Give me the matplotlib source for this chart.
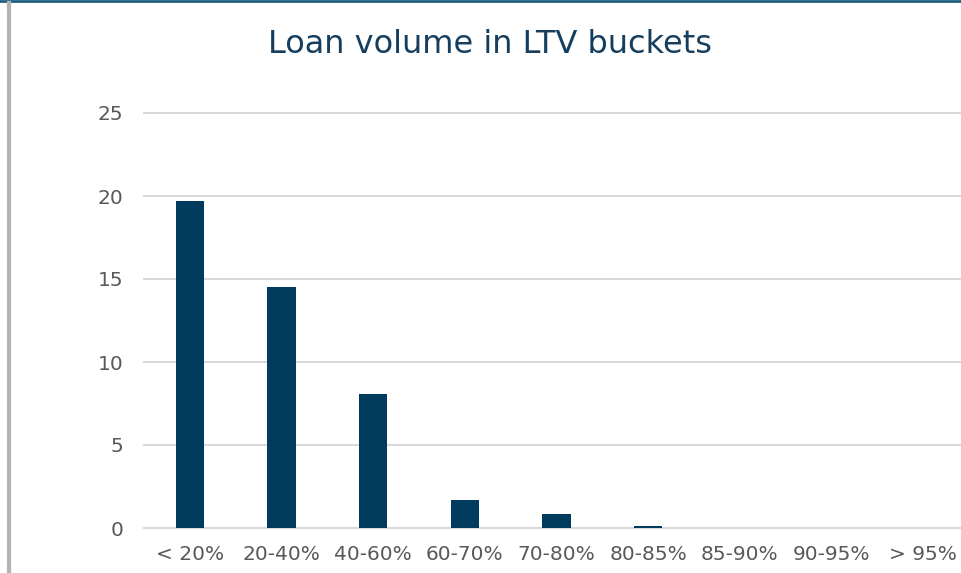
import numpy as np
import matplotlib.pyplot as plt
from matplotlib.lines import Line2D

# LTV buckets and loan volume
buckets = ['< 20%', '20-40%', '40-60%', '60-70%', '70-80%',
           '80-85%', '85-90%', '90-95%', '> 95%']
volume = [19.7, 14.5, 8.1, 1.7, 0.85, 0.1, 0.02, 0.02, 0.0]
y_ticks = [0, 5, 10, 15, 20, 25]

bar_color = '#003a5c'
text_color = '#595959'
title_color = '#163f5f'

plt.rcParams['font.family'] = ['DejaVu Sans']

fig = plt.figure(figsize=(9.61, 5.73), dpi=100)
ax = fig.add_axes([144 / 961, 45 / 573, 825 / 961, 415 / 573])

x = np.arange(len(buckets))
ax.bar(x, volume, width=0.31, color=bar_color, zorder=3)

ax.set_xlim(-0.5, len(buckets) - 0.5)
ax.set_ylim(0, 25)
ax.set_yticks(y_ticks)
ax.set_xticks(x)
ax.set_xticklabels(buckets)
ax.yaxis.grid(True, color='#d9d9d9', linewidth=1.5, zorder=0)
for gl in ax.get_ygridlines():
    gl.set_clip_on(False)
ax.tick_params(axis='both', length=0, labelsize=14.5, colors=text_color)
ax.tick_params(axis='y', pad=15)
ax.tick_params(axis='x', pad=12)
for s in ax.spines.values():
    s.set_visible(False)

fig.text(0.51, 0.922, 'Loan volume in LTV buckets', ha='center', va='center',
         fontsize=23, color=title_color)

# frame bits: top rule and left grey bar
fig.add_artist(Line2D([0, 1], [0.998, 0.998], color='#1f5f82', linewidth=2,
                      transform=fig.transFigure))
fig.add_artist(Line2D([9 / 961, 9 / 961], [0, 0.995], color='#b3b3b3', linewidth=3,
                      transform=fig.transFigure))

fig.savefig('out.png', dpi=100)
